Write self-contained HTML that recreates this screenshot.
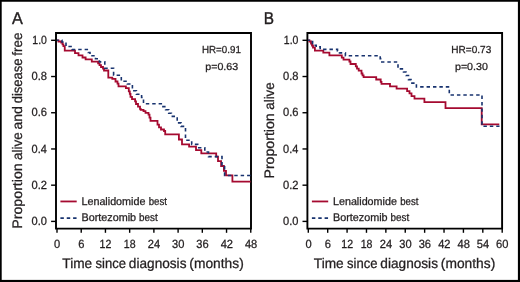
<!DOCTYPE html>
<html><head><meta charset="utf-8"><style>
html,body{margin:0;padding:0;background:#fff;}
svg{display:block;will-change:transform;}
text{font-family:"Liberation Sans",sans-serif;text-rendering:geometricPrecision;fill:#231f20;stroke:#231f20;stroke-width:0.28px;}
</style></head><body>
<svg width="520" height="282" viewBox="0 0 520 282">
<rect x="0" y="0" width="520" height="282" fill="#fff"/>
<path d="M56.0,33.0 H251.0 V228.6 H56.0 Z" fill="none" stroke="#000" stroke-width="1.9"/>
<line x1="51.10" y1="221.40" x2="56.0" y2="221.40" stroke="#000" stroke-width="1.4"/>
<text x="31.56" y="225.05" font-size="11.95" textLength="15.38" lengthAdjust="spacingAndGlyphs">0.0</text>
<line x1="51.10" y1="185.18" x2="56.0" y2="185.18" stroke="#000" stroke-width="1.4"/>
<text x="31.55" y="188.83" font-size="11.95" textLength="15.49" lengthAdjust="spacingAndGlyphs">0.2</text>
<line x1="51.10" y1="148.96" x2="56.0" y2="148.96" stroke="#000" stroke-width="1.4"/>
<text x="31.56" y="152.61" font-size="11.95" textLength="15.26" lengthAdjust="spacingAndGlyphs">0.4</text>
<line x1="51.10" y1="112.74" x2="56.0" y2="112.74" stroke="#000" stroke-width="1.4"/>
<text x="31.55" y="116.39" font-size="11.95" textLength="15.49" lengthAdjust="spacingAndGlyphs">0.6</text>
<line x1="51.10" y1="76.52" x2="56.0" y2="76.52" stroke="#000" stroke-width="1.4"/>
<text x="31.55" y="80.17" font-size="11.95" textLength="15.49" lengthAdjust="spacingAndGlyphs">0.8</text>
<line x1="51.10" y1="40.30" x2="56.0" y2="40.30" stroke="#000" stroke-width="1.4"/>
<text x="32.37" y="43.95" font-size="11.95" textLength="14.55" lengthAdjust="spacingAndGlyphs">1.0</text>
<line x1="57.00" y1="228.6" x2="57.00" y2="232.79999999999998" stroke="#000" stroke-width="1.4"/>
<text x="54.09" y="247.80" font-size="11.95" textLength="6.18" lengthAdjust="spacingAndGlyphs">0</text>
<line x1="81.22" y1="228.6" x2="81.22" y2="232.79999999999998" stroke="#000" stroke-width="1.4"/>
<text x="78.25" y="247.80" font-size="11.95" textLength="6.18" lengthAdjust="spacingAndGlyphs">6</text>
<line x1="105.44" y1="228.6" x2="105.44" y2="232.79999999999998" stroke="#000" stroke-width="1.4"/>
<text x="99.60" y="247.80" font-size="11.95" textLength="11.79" lengthAdjust="spacingAndGlyphs">12</text>
<line x1="129.66" y1="228.6" x2="129.66" y2="232.79999999999998" stroke="#000" stroke-width="1.4"/>
<text x="123.82" y="247.80" font-size="11.95" textLength="11.79" lengthAdjust="spacingAndGlyphs">18</text>
<line x1="153.88" y1="228.6" x2="153.88" y2="232.79999999999998" stroke="#000" stroke-width="1.4"/>
<text x="147.75" y="247.80" font-size="11.95" textLength="12.36" lengthAdjust="spacingAndGlyphs">24</text>
<line x1="178.10" y1="228.6" x2="178.10" y2="232.79999999999998" stroke="#000" stroke-width="1.4"/>
<text x="172.08" y="247.80" font-size="11.95" textLength="12.36" lengthAdjust="spacingAndGlyphs">30</text>
<line x1="202.32" y1="228.6" x2="202.32" y2="232.79999999999998" stroke="#000" stroke-width="1.4"/>
<text x="196.35" y="247.80" font-size="11.95" textLength="12.36" lengthAdjust="spacingAndGlyphs">36</text>
<line x1="226.54" y1="228.6" x2="226.54" y2="232.79999999999998" stroke="#000" stroke-width="1.4"/>
<text x="220.68" y="247.80" font-size="11.95" textLength="12.36" lengthAdjust="spacingAndGlyphs">42</text>
<line x1="250.76" y1="228.6" x2="250.76" y2="232.79999999999998" stroke="#000" stroke-width="1.4"/>
<text x="244.90" y="247.80" font-size="11.95" textLength="12.36" lengthAdjust="spacingAndGlyphs">48</text>
<text x="62.33" y="267.60" font-size="13.9" textLength="29.89" lengthAdjust="spacingAndGlyphs">Time</text>
<text x="95.51" y="267.60" font-size="13.9" textLength="30.47" lengthAdjust="spacingAndGlyphs">since</text>
<text x="128.85" y="267.60" font-size="13.9" textLength="57.63" lengthAdjust="spacingAndGlyphs">diagnosis</text>
<text x="189.37" y="267.60" font-size="13.9" textLength="54.39" lengthAdjust="spacingAndGlyphs">(months)</text>
<text transform="translate(21.90,0) rotate(-90)" x="-228.73" y="0" font-size="13.8" textLength="65.44" lengthAdjust="spacingAndGlyphs">Proportion</text>
<text transform="translate(21.90,0) rotate(-90)" x="-159.94" y="0" font-size="13.8" textLength="27.56" lengthAdjust="spacingAndGlyphs">alive</text>
<text transform="translate(21.90,0) rotate(-90)" x="-129.56" y="0" font-size="13.8" textLength="23.49" lengthAdjust="spacingAndGlyphs">and</text>
<text transform="translate(21.90,0) rotate(-90)" x="-103.32" y="0" font-size="13.8" textLength="44.83" lengthAdjust="spacingAndGlyphs">disease</text>
<text transform="translate(21.90,0) rotate(-90)" x="-55.63" y="0" font-size="13.8" textLength="23.11" lengthAdjust="spacingAndGlyphs">free</text>
<text x="202.02" y="53.40" font-size="10.2" textLength="38.82" lengthAdjust="spacingAndGlyphs">HR=0.91</text>
<text x="205.26" y="70.20" font-size="10.2" textLength="32.93" lengthAdjust="spacingAndGlyphs">p=0.63</text>
<line x1="60.4" y1="201.45" x2="76.7" y2="201.45" stroke="#a50a30" stroke-width="1.8"/>
<line x1="60.4" y1="218.1" x2="76.7" y2="218.1" stroke="#18336f" stroke-width="1.6" stroke-dasharray="3.45 2.9"/>
<text x="81.44" y="204.60" font-size="10.9" textLength="63.98" lengthAdjust="spacingAndGlyphs">Lenalidomide</text>
<text x="148.72" y="204.60" font-size="10.9" textLength="18.18" lengthAdjust="spacingAndGlyphs">best</text>
<text x="81.44" y="221.30" font-size="10.9" textLength="54.67" lengthAdjust="spacingAndGlyphs">Bortezomib</text>
<text x="139.11" y="221.30" font-size="10.9" textLength="18.69" lengthAdjust="spacingAndGlyphs">best</text>
<path d="M57,40.3 H58.5 V41.5 H61.2 V42.6 H62.5 V44.4 H63.4 V46.2 H64.75 V50.6 H75.0 V53.1 H78.5 V55.3 H82.5 V57.5 H85.6 V59.3 H91.8 V61.6 H98.1 V63.4 H99.5 V65.2 H101 V67 H103 V68.7 H104 V70.5 H108.3 V77.7 H112.3 V78.9 H115.5 V81.5 H117.5 V83.7 H118.5 V86.4 H125.9 V88.2 H128.8 V91.3 H129.8 V93.9 H130.5 V96.9 H132 V99.1 H135.1 V101.3 H136 V104 H138 V106.6 H140 V108.8 H140.7 V109.8 H143.5 V111.1 H145.5 V112.9 H148.5 V114.6 H149.5 V117.7 H150.5 V120.9 H157.5 V124.6 H159 V127.3 H161 V129.5 H164 V131 H165.2 V134.4 H178.9 V139.5 H182 V144.4 H189.1 V146.6 H196 V150.2 H201.3 V153.4 H216.2 V156.6 H218 V161.1 H221.1 V166 H223.9 V170.8 H226 V175.4 H232.4 V181.6 H250.6" fill="none" stroke="#a50a30" stroke-width="1.8"/>
<path d="M57,40.3 H62 V42 H66 V46.5 H72 V49.5 H88.3 V52.5 H90 V55.7 H95.5 V58.8 H99.4 V61.9 H104.8 V68.3 H113.6 V75.2 H121.3 V81.3 H127.3 V84 H132.4 V90.8 H136.4 V94.2 H141.6 V97.5 H143.5 V103.7 H162.1 V106.6 H165.6 V109.8 H168.7 V113.3 H171.4 V116.4 H177.2 V122.9 H181 V126.4 H185.5 V140.2 H191.7 V144.4 H197.7 V147.7 H204.8 V152 H208.5 V156.6 H222 V165 H224.6 V175.5 H250.6" fill="none" stroke="#18336f" stroke-width="1.6" stroke-dasharray="3.45 2.96" stroke-dashoffset="1.63"/>
<text x="12.10" y="23.60" font-size="17.2" textLength="10.81" lengthAdjust="spacingAndGlyphs" style="stroke-width:0.4px">A</text>
<path d="M307.4,33.0 H502.1 V228.6 H307.4 Z" fill="none" stroke="#000" stroke-width="1.9"/>
<line x1="302.50" y1="221.40" x2="307.4" y2="221.40" stroke="#000" stroke-width="1.4"/>
<text x="283.06" y="225.05" font-size="11.95" textLength="15.38" lengthAdjust="spacingAndGlyphs">0.0</text>
<line x1="302.50" y1="185.18" x2="307.4" y2="185.18" stroke="#000" stroke-width="1.4"/>
<text x="283.05" y="188.83" font-size="11.95" textLength="15.49" lengthAdjust="spacingAndGlyphs">0.2</text>
<line x1="302.50" y1="148.96" x2="307.4" y2="148.96" stroke="#000" stroke-width="1.4"/>
<text x="283.06" y="152.61" font-size="11.95" textLength="15.26" lengthAdjust="spacingAndGlyphs">0.4</text>
<line x1="302.50" y1="112.74" x2="307.4" y2="112.74" stroke="#000" stroke-width="1.4"/>
<text x="283.05" y="116.39" font-size="11.95" textLength="15.49" lengthAdjust="spacingAndGlyphs">0.6</text>
<line x1="302.50" y1="76.52" x2="307.4" y2="76.52" stroke="#000" stroke-width="1.4"/>
<text x="283.05" y="80.17" font-size="11.95" textLength="15.49" lengthAdjust="spacingAndGlyphs">0.8</text>
<line x1="302.50" y1="40.30" x2="307.4" y2="40.30" stroke="#000" stroke-width="1.4"/>
<text x="283.87" y="43.95" font-size="11.95" textLength="14.55" lengthAdjust="spacingAndGlyphs">1.0</text>
<line x1="308.30" y1="228.6" x2="308.30" y2="232.79999999999998" stroke="#000" stroke-width="1.4"/>
<text x="305.39" y="247.80" font-size="11.95" textLength="6.18" lengthAdjust="spacingAndGlyphs">0</text>
<line x1="327.69" y1="228.6" x2="327.69" y2="232.79999999999998" stroke="#000" stroke-width="1.4"/>
<text x="324.72" y="247.80" font-size="11.95" textLength="6.18" lengthAdjust="spacingAndGlyphs">6</text>
<line x1="347.08" y1="228.6" x2="347.08" y2="232.79999999999998" stroke="#000" stroke-width="1.4"/>
<text x="341.24" y="247.80" font-size="11.95" textLength="11.79" lengthAdjust="spacingAndGlyphs">12</text>
<line x1="366.47" y1="228.6" x2="366.47" y2="232.79999999999998" stroke="#000" stroke-width="1.4"/>
<text x="360.63" y="247.80" font-size="11.95" textLength="11.79" lengthAdjust="spacingAndGlyphs">18</text>
<line x1="385.86" y1="228.6" x2="385.86" y2="232.79999999999998" stroke="#000" stroke-width="1.4"/>
<text x="379.73" y="247.80" font-size="11.95" textLength="12.36" lengthAdjust="spacingAndGlyphs">24</text>
<line x1="405.25" y1="228.6" x2="405.25" y2="232.79999999999998" stroke="#000" stroke-width="1.4"/>
<text x="399.23" y="247.80" font-size="11.95" textLength="12.36" lengthAdjust="spacingAndGlyphs">30</text>
<line x1="424.64" y1="228.6" x2="424.64" y2="232.79999999999998" stroke="#000" stroke-width="1.4"/>
<text x="418.67" y="247.80" font-size="11.95" textLength="12.36" lengthAdjust="spacingAndGlyphs">36</text>
<line x1="444.03" y1="228.6" x2="444.03" y2="232.79999999999998" stroke="#000" stroke-width="1.4"/>
<text x="438.17" y="247.80" font-size="11.95" textLength="12.36" lengthAdjust="spacingAndGlyphs">42</text>
<line x1="463.42" y1="228.6" x2="463.42" y2="232.79999999999998" stroke="#000" stroke-width="1.4"/>
<text x="457.56" y="247.80" font-size="11.95" textLength="12.36" lengthAdjust="spacingAndGlyphs">48</text>
<line x1="482.81" y1="228.6" x2="482.81" y2="232.79999999999998" stroke="#000" stroke-width="1.4"/>
<text x="476.73" y="247.80" font-size="11.95" textLength="12.36" lengthAdjust="spacingAndGlyphs">54</text>
<line x1="502.20" y1="228.6" x2="502.20" y2="232.79999999999998" stroke="#000" stroke-width="1.4"/>
<text x="496.12" y="247.80" font-size="11.95" textLength="12.36" lengthAdjust="spacingAndGlyphs">60</text>
<text x="313.83" y="267.60" font-size="13.9" textLength="29.89" lengthAdjust="spacingAndGlyphs">Time</text>
<text x="347.01" y="267.60" font-size="13.9" textLength="30.47" lengthAdjust="spacingAndGlyphs">since</text>
<text x="380.35" y="267.60" font-size="13.9" textLength="57.63" lengthAdjust="spacingAndGlyphs">diagnosis</text>
<text x="440.87" y="267.60" font-size="13.9" textLength="54.39" lengthAdjust="spacingAndGlyphs">(months)</text>
<text transform="translate(274.10,0) rotate(-90)" x="-178.53" y="0" font-size="13.8" textLength="65.23" lengthAdjust="spacingAndGlyphs">Proportion</text>
<text transform="translate(274.10,0) rotate(-90)" x="-109.73" y="0" font-size="13.8" textLength="27.35" lengthAdjust="spacingAndGlyphs">alive</text>
<text x="451.30" y="53.40" font-size="10.2" textLength="39.95" lengthAdjust="spacingAndGlyphs">HR=0.73</text>
<text x="454.96" y="70.20" font-size="10.2" textLength="32.93" lengthAdjust="spacingAndGlyphs">p=0.30</text>
<line x1="311.9" y1="201.45" x2="328.2" y2="201.45" stroke="#a50a30" stroke-width="1.8"/>
<line x1="311.9" y1="218.1" x2="328.2" y2="218.1" stroke="#18336f" stroke-width="1.6" stroke-dasharray="3.45 2.9"/>
<text x="332.94" y="204.60" font-size="10.9" textLength="63.98" lengthAdjust="spacingAndGlyphs">Lenalidomide</text>
<text x="400.22" y="204.60" font-size="10.9" textLength="18.18" lengthAdjust="spacingAndGlyphs">best</text>
<text x="332.94" y="221.30" font-size="10.9" textLength="54.67" lengthAdjust="spacingAndGlyphs">Bortezomib</text>
<text x="390.61" y="221.30" font-size="10.9" textLength="18.69" lengthAdjust="spacingAndGlyphs">best</text>
<path d="M308,40.3 H309.5 V41.5 H311 V43.5 H312 V45.5 H313 V47.5 H314.9 V50.6 H323.3 V52.7 H329.4 V55.4 H341.8 V57.7 H343.5 V59.6 H349.4 V61.5 H350.5 V64 H355.8 V66.4 H357 V68.6 H358.7 V70.6 H361.5 V73.5 H362.5 V75.3 H363.6 V77.2 H376.2 V79.5 H380.7 V81.8 H381.5 V83.9 H390 V86.3 H396.6 V88.6 H407.1 V91.1 H409.5 V93.3 H411.5 V96.1 H414.5 V98.6 H424.4 V102.2 H445.5 V108.2 H481.7 V124.4 H499.3" fill="none" stroke="#a50a30" stroke-width="1.8"/>
<path d="M308,40.3 H310.6 V41.6 H312.6 V43.4 H314.3 V45.2 H316.2 V46.9 H320.2 V49.4 H337.5 V51 H339.5 V52.9 H345.4 V55.8 H380.2 V58.6 H381.8 V62 H398 V68.9 H403.5 V72 H406 V75.5 H408.5 V79.6 H411 V83.1 H416.4 V86.9 H449.3 V95 H482 V126.2 H499.5" fill="none" stroke="#18336f" stroke-width="1.6" stroke-dasharray="3.45 2.96" stroke-dashoffset="1.49"/>
<text x="263.77" y="23.60" font-size="17.2" textLength="10.25" lengthAdjust="spacingAndGlyphs" style="stroke-width:0.4px">B</text>
<path d="M0.85,0.85 H518.9 V280.9 H0.85 Z" fill="none" stroke="#000" stroke-width="1.7"/>
<rect x="517.9" y="0" width="2.1" height="282" fill="#000"/>
<rect x="0" y="279.9" width="520" height="2.1" fill="#000"/>
</svg>
</body></html>
